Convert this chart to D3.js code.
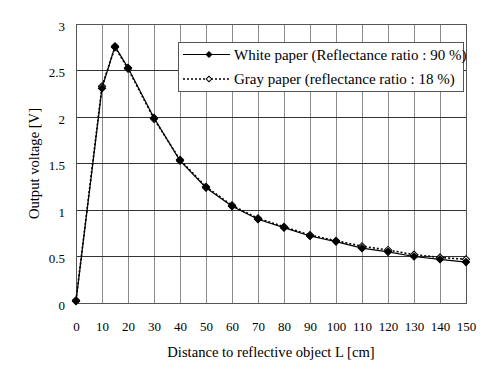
<!DOCTYPE html>
<html>
<head>
<meta charset="utf-8">
<script src="https://cdn.jsdelivr.net/npm/d3@7"></script>
<style>
  body { margin: 0; background: #fff; }
  svg text { font-family: "Liberation Serif", "Times New Roman", Times, "DejaVu Serif", serif !important; }
</style>
</head>
<body>
<div id="chart"></div>
<script>
// ---------------------------- DATA ----------------------------//
const distances = [0, 10, 15, 20, 30, 40, 50, 60, 70, 80, 90, 100, 110, 120, 130, 140, 150];
const whitePaper = [0.02, 2.31, 2.76, 2.53, 1.99, 1.53, 1.24, 1.04, 0.90, 0.81, 0.72, 0.66, 0.59, 0.55, 0.50, 0.47, 0.44];
const grayPaper = [0.03, 2.33, 2.75, 2.52, 1.98, 1.54, 1.25, 1.05, 0.91, 0.82, 0.73, 0.67, 0.61, 0.57, 0.52, 0.49, 0.47];
const xTicks = d3.range(0, 151, 10);
const yTicks = [0, 0.5, 1, 1.5, 2, 2.5, 3];
const seriesNames = ["White paper (Reflectance ratio : 90 %)", "Gray paper (reflectance ratio : 18 %)"];

// ---------------------------- SVG -----------------------------//
const width = 487;
const height = 373;
const plot = { left: 76, top: 24, right: 466, bottom: 303 };

const svg = d3.select("#chart").append("svg")
  .attr("width", width)
  .attr("height", height);

// --------------------------- SCALES ---------------------------//
const xScale = d3.scaleLinear().domain([0, 150]).range([plot.left, plot.right]);
const yScale = d3.scaleLinear().domain([0, 3]).range([plot.bottom, plot.top]);

// --------------------------- GRID -----------------------------//
svg.append("g")
  .selectAll("line")
  .data(xTicks)
  .enter().append("line")
  .attr("x1", d => xScale(d)).attr("x2", d => xScale(d))
  .attr("y1", plot.top).attr("y2", plot.bottom)
  .attr("stroke", "#8a8a8a")
  .attr("stroke-width", 1)
  .attr("shape-rendering", "crispEdges");

svg.append("g")
  .selectAll("line")
  .data(yTicks)
  .enter().append("line")
  .attr("x1", plot.left).attr("x2", plot.right)
  .attr("y1", d => yScale(d)).attr("y2", d => yScale(d))
  .attr("stroke", "#333")
  .attr("stroke-width", 1)
  .attr("shape-rendering", "crispEdges");

// plot frame
svg.append("rect")
  .attr("x", plot.left).attr("y", plot.top)
  .attr("width", plot.right - plot.left)
  .attr("height", plot.bottom - plot.top)
  .attr("fill", "none")
  .attr("stroke", "#555")
  .attr("shape-rendering", "crispEdges");

// --------------------------- AXES -----------------------------//
const xaxis = d3.axisBottom(xScale).tickValues(xTicks).tickSize(0).tickPadding(19);
const yaxis = d3.axisLeft(yScale).tickValues(yTicks).tickSize(0).tickPadding(11)
  .tickFormat(d => String(d));

const gx = svg.append("g")
  .attr("transform", "translate(0," + plot.bottom + ")")
  .call(xaxis);
const gy = svg.append("g")
  .attr("transform", "translate(" + plot.left + ",2)")
  .call(yaxis);

[gx, gy].forEach(g => {
  g.select(".domain").remove();
  g.attr("font-family", null);
  g.selectAll("text")
    .attr("font-size", 13)
    .attr("fill", "#000");
});

svg.append("text")
  .attr("x", (plot.left + plot.right) / 2)
  .attr("y", 357)
  .attr("text-anchor", "middle")
  .attr("font-size", 14.6)
  .text("Distance to reflective object L [cm]");

svg.append("text")
  .attr("transform", "translate(39," + (plot.top + plot.bottom) / 2 + ") rotate(-90)")
  .attr("text-anchor", "middle")
  .attr("font-size", 14.6)
  .text("Output voltage [V]");

// --------------------------- LINES ----------------------------//
const line = d3.line()
  .x(d => xScale(d[0]))
  .y(d => yScale(d[1]));

const whiteData = distances.map((d, i) => [d, whitePaper[i]]);
const grayData = distances.map((d, i) => [d, grayPaper[i]]);

// square turned 45 degrees, like the spreadsheet marker
const marker = d3.symbol().type(d3.symbolSquare).size(26);
const place = d => "translate(" + xScale(d[0]) + "," + yScale(d[1]) + ") rotate(45)";

svg.append("path")
  .attr("d", line(grayData))
  .attr("fill", "none")
  .attr("stroke", "#000")
  .attr("stroke-width", 1.6)
  .attr("stroke-dasharray", "2,2");

svg.append("g").selectAll("path")
  .data(grayData)
  .enter().append("path")
  .attr("transform", place)
  .attr("d", marker)
  .attr("fill", "#fff")
  .attr("stroke", "#000")
  .attr("stroke-width", 1);

svg.append("path")
  .attr("d", line(whiteData))
  .attr("fill", "none")
  .attr("stroke", "#000")
  .attr("stroke-width", 1.2);

svg.append("g").selectAll("path")
  .data(whiteData)
  .enter().append("path")
  .attr("transform", place)
  .attr("d", marker)
  .attr("fill", "#000")
  .attr("stroke", "#000")
  .attr("stroke-width", 1);

// --------------------------- LEGEND ---------------------------//
const legend = svg.append("g");
legend.append("rect")
  .attr("x", 178.5).attr("y", 42.5)
  .attr("width", 285).attr("height", 49)
  .attr("fill", "#fff")
  .attr("stroke", "#555");

const rows = legend.selectAll("g.row")
  .data(seriesNames)
  .enter().append("g")
  .attr("class", "row")
  .attr("transform", (d, i) => "translate(0," + (54.5 + i * 24.5) + ")");

rows.append("line")
  .attr("x1", 183).attr("x2", 230)
  .attr("y1", 0).attr("y2", 0)
  .attr("stroke", "#000")
  .attr("stroke-width", (d, i) => i === 0 ? 1.2 : 1.6)
  .attr("stroke-dasharray", (d, i) => i === 0 ? null : "2,2");

rows.append("path")
  .attr("transform", "translate(209,0) rotate(45)")
  .attr("d", d3.symbol().type(d3.symbolSquare).size(16))
  .attr("fill", (d, i) => i === 0 ? "#000" : "#fff")
  .attr("stroke", "#000")
  .attr("stroke-width", 1);

rows.append("text")
  .attr("x", 234)
  .attr("y", 5)
  .attr("font-size", 15)
  .text(d => d);
</script>
</body>
</html>
